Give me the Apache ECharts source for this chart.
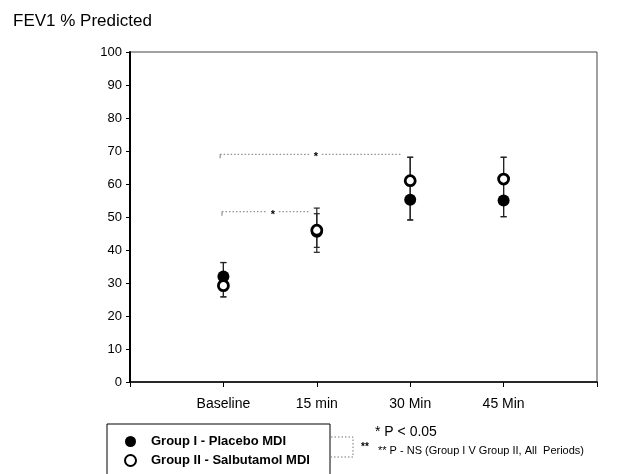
<!DOCTYPE html>
<html><head><meta charset="utf-8">
<script src="https://cdn.jsdelivr.net/npm/echarts@6/dist/echarts.min.js"></script>
<style>html,body{margin:0;padding:0;background:#fff}#c{width:633px;height:474px}</style>
</head><body><div id="c"></div>
<script>
var categories = ['Baseline', '15 min', '30 Min', '45 Min'];
var catPos = [1, 2, 3, 4];
var placebo = [32, 45.5, 55.2, 55];
var placeboLow = [25.8, 39.3, 49.1, 50.1];
var placeboHigh = [36.2, 51, 68.1, 68.1];
var salbutamol = [29.2, 46, 61, 61.5];
var salbutamolLow = [25.8, 40.8, 49.1, 50.1];
var salbutamolHigh = [36.2, 52.7, 68.1, 68.1];
var yTicks = [0, 10, 20, 30, 40, 50, 60, 70, 80, 90, 100];
// significance brackets: [xStart, xEnd, y, starX]
var brackets = [[0.965, 2.9, 69, 1.99], [0.985, 1.93, 51.6, 1.53]];

var FONT = 'Liberation Sans, Arial, sans-serif';
var chart = echarts.init(document.getElementById('c'));

function errData(low, high) {
  return catPos.map(function (x, i) { return [x, low[i], high[i]]; });
}
function errRender(params, api) {
  var x = api.value(0);
  var lo = api.coord([x, api.value(1)]);
  var hi = api.coord([x, api.value(2)]);
  var w = 3;
  var st = { stroke: '#222', lineWidth: 1.2 };
  return { type: 'group', children: [
    { type: 'line', shape: { x1: lo[0], y1: lo[1], x2: hi[0], y2: hi[1] }, style: st },
    { type: 'line', shape: { x1: lo[0] - w, y1: lo[1], x2: lo[0] + w, y2: lo[1] }, style: st },
    { type: 'line', shape: { x1: hi[0] - w, y1: hi[1], x2: hi[0] + w, y2: hi[1] }, style: st }
  ]};
}
function bracketRender(params, api) {
  var a = api.coord([api.value(0), api.value(2)]);
  var b = api.coord([api.value(1), api.value(2)]);
  var s = api.coord([api.value(3), api.value(2)]);
  var st = { stroke: '#777', lineWidth: 1, lineDash: [1.5, 2] };
  return { type: 'group', children: [
    { type: 'line', shape: { x1: a[0], y1: a[1] + 4, x2: a[0], y2: a[1] }, style: { stroke: '#777', lineWidth: 1 } },
    { type: 'line', shape: { x1: a[0], y1: a[1], x2: s[0] - 6, y2: a[1] }, style: st },
    { type: 'line', shape: { x1: s[0] + 6, y1: a[1], x2: b[0], y2: b[1] }, style: st },
    { type: 'text', style: { text: '*', x: s[0], y: s[1] + 3, align: 'center', verticalAlign: 'middle', font: 'bold 11px ' + FONT, fill: '#000' } }
  ]};
}

chart.setOption({
  animation: false,
  backgroundColor: '#fff',
  title: { text: 'FEV1 % Predicted', left: 8, top: 8, textStyle: { fontFamily: FONT, fontSize: 17, fontWeight: 'normal', color: '#000' } },
  grid: { left: 130, right: 36, top: 52, bottom: 92, show: true, borderColor: '#444', borderWidth: 1, backgroundColor: 'transparent' },
  xAxis: {
    type: 'value', min: 0, max: 5, interval: 1,
    axisLine: { lineStyle: { color: '#000', width: 1.5 } },
    axisTick: { show: true, length: 5, lineStyle: { color: '#000' } },
    splitLine: { show: false },
    axisLabel: { margin: 15, fontFamily: FONT, fontSize: 14, color: '#000',
      formatter: function (v) { var i = catPos.indexOf(v); return i >= 0 ? categories[i] : ''; } }
  },
  yAxis: {
    type: 'value', min: yTicks[0], max: yTicks[yTicks.length - 1], interval: 10,
    axisLine: { show: true, lineStyle: { color: '#000', width: 2 } },
    axisTick: { show: true, length: 4, lineStyle: { color: '#000' } },
    splitLine: { show: false },
    axisLabel: { margin: 8, fontFamily: FONT, fontSize: 13, color: '#000' }
  },
  legend: {
    orient: 'vertical', left: 119, top: 430, itemGap: 6, itemWidth: 11, itemHeight: 11,
    icon: 'circle',
    textStyle: { fontFamily: FONT, fontSize: 13, fontWeight: 'bold', color: '#000', padding: [0, 0, 0, 10] },
    data: ['Group I - Placebo MDI', 'Group II - Salbutamol MDI']
  },
  series: [
    { type: 'custom', name: 'errI', renderItem: errRender, data: errData(placeboLow, placeboHigh), z: 1, silent: true },
    { type: 'custom', name: 'errII', renderItem: errRender, data: errData(salbutamolLow, salbutamolHigh), z: 1, silent: true },
    { type: 'custom', name: 'brackets', renderItem: bracketRender, data: brackets, z: 1, silent: true },
    { type: 'scatter', name: 'Group I - Placebo MDI', symbol: 'circle', symbolSize: 12, z: 3,
      itemStyle: { color: '#000', opacity: 1 },
      data: catPos.map(function (x, i) { return [x, placebo[i]]; }) },
    { type: 'scatter', name: 'Group II - Salbutamol MDI', symbol: 'circle', symbolSize: 10, z: 4,
      itemStyle: { color: '#fff', borderColor: '#000', borderWidth: 2.8, opacity: 1 },
      data: catPos.map(function (x, i) { return [x, salbutamol[i]]; }) }
  ],
  graphic: [
    { type: 'rect', shape: { x: 107, y: 424, width: 223, height: 60 }, style: { fill: 'none', stroke: '#000', lineWidth: 1 } },
    { type: 'polyline', shape: { points: [[331, 437], [353, 437], [353, 457], [331, 457]] }, style: { fill: 'none', stroke: '#777', lineWidth: 1, lineDash: [1.5, 2] } },
    { type: 'text', style: { text: '**', x: 361, y: 442, font: 'bold 10px ' + FONT, fill: '#000' } },
    { type: 'text', style: { text: '* P < 0.05', x: 375, y: 425, font: '14px ' + FONT, fill: '#000' } },
    { type: 'text', style: { text: '** P - NS (Group I V Group II, All  Periods)', x: 378, y: 445, font: '11px ' + FONT, fill: '#000' } }
  ]
});
</script></body></html>
